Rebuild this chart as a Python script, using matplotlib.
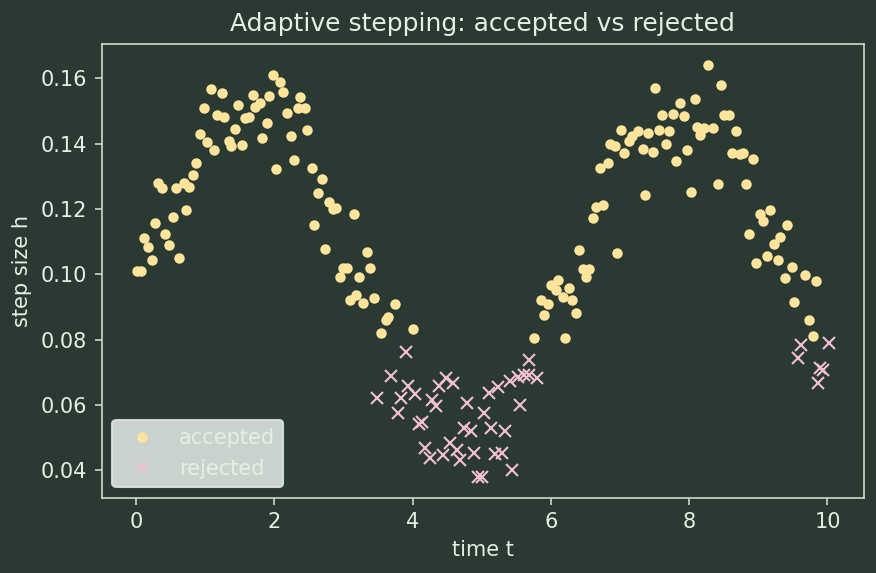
import matplotlib
matplotlib.use('Agg')
import matplotlib.pyplot as plt

BG = '#2a3a33'
FG = '#e6eee8'
EDGE = '#cbd9d1'

acc_t = [0.01, 0.08, 0.12, 0.18, 0.23, 0.28, 0.32, 0.38, 0.42, 0.48, 0.53, 0.58, 0.63,
         0.69, 0.73, 0.77, 0.83, 0.87, 0.93, 0.98, 1.03, 1.08, 1.13, 1.18, 1.24, 1.28,
         1.34, 1.38, 1.44, 1.48, 1.54, 1.58, 1.64, 1.69, 1.73, 1.80, 1.83, 1.89, 1.93,
         1.99, 2.03, 2.09, 2.13, 2.19, 2.24, 2.29, 2.34, 2.38, 2.44, 2.48, 2.54, 2.58,
         2.64, 2.69, 2.74, 2.79, 2.85, 2.89, 2.95, 2.99, 3.05, 3.09, 3.15, 3.19, 3.22,
         3.29, 3.34, 3.39, 3.44, 3.54, 3.61, 3.64, 3.74, 4.00,
         5.76, 5.86, 5.90, 5.96, 6.00, 6.07, 6.10, 6.17, 6.20, 6.26, 6.30, 6.37, 6.41,
         6.47, 6.51, 6.55, 6.61, 6.66, 6.71, 6.76, 6.82, 6.86, 6.93, 6.96, 7.01, 7.06,
         7.13, 7.18, 7.26, 7.33, 7.36, 7.41, 7.47, 7.51, 7.57, 7.61, 7.67, 7.71, 7.77,
         7.81, 7.87, 7.92, 7.97, 8.02, 8.08, 8.12, 8.16, 8.22, 8.27, 8.34, 8.42, 8.46,
         8.51, 8.57, 8.62, 8.67, 8.73, 8.78, 8.82, 8.86, 8.93, 8.97, 9.02, 9.07, 9.12,
         9.17, 9.22, 9.28, 9.32, 9.38, 9.42, 9.48, 9.52, 9.68, 9.73, 9.79, 9.83]
acc_h = [0.1011, 0.1011, 0.1111, 0.1083, 0.1044, 0.1157, 0.1278, 0.1265, 0.1124, 0.1090,
         0.1176, 0.1265, 0.1050, 0.1280, 0.1197, 0.1268, 0.1304, 0.1341, 0.1430, 0.1510,
         0.1406, 0.1568, 0.1379, 0.1489, 0.1554, 0.1481, 0.1407, 0.1392, 0.1446, 0.1517,
         0.1396, 0.1477, 0.1481, 0.1550, 0.1512, 0.1525, 0.1418, 0.1464, 0.1546, 0.1609,
         0.1323, 0.1590, 0.1559, 0.1493, 0.1423, 0.1350, 0.1510, 0.1544, 0.1510, 0.1443,
         0.1326, 0.1151, 0.1249, 0.1292, 0.1077, 0.1222, 0.1201, 0.1203, 0.0991, 0.1019,
         0.1019, 0.0922, 0.1185, 0.0936, 0.0993, 0.0911, 0.1068, 0.1019, 0.0927, 0.0819,
         0.0860, 0.0869, 0.0908, 0.0832,
         0.0804, 0.0922, 0.0876, 0.0909, 0.0968, 0.0952, 0.0983, 0.0931, 0.0804, 0.0958,
         0.0922, 0.0881, 0.1075, 0.1017, 0.0993, 0.1017, 0.1172, 0.1206, 0.1324, 0.1213,
         0.1341, 0.1400, 0.1392, 0.1065, 0.1443, 0.1372, 0.1408, 0.1423, 0.1438, 0.1385,
         0.1244, 0.1433, 0.1375, 0.1571, 0.1443, 0.1489, 0.1400, 0.1440, 0.1492, 0.1348,
         0.1525, 0.1486, 0.1379, 0.1252, 0.1538, 0.1452, 0.1425, 0.1447, 0.1642, 0.1447,
         0.1277, 0.1579, 0.1489, 0.1489, 0.1372, 0.1440, 0.1369, 0.1372, 0.1277, 0.1123,
         0.1354, 0.1034, 0.1183, 0.1162, 0.1055, 0.1196, 0.1093, 0.1044, 0.1113, 0.0988,
         0.1152, 0.1022, 0.0915, 0.0997, 0.0859, 0.0811, 0.0980]

rej_t = [3.49, 3.69, 3.79, 3.83, 3.90, 3.94, 4.04, 4.09, 4.14, 4.18, 4.25, 4.28, 4.34,
         4.39, 4.44, 4.49, 4.54, 4.59, 4.65, 4.69, 4.74, 4.79, 4.84, 4.89, 4.94, 5.01,
         5.03, 5.10, 5.14, 5.19, 5.24, 5.30, 5.34, 5.41, 5.44, 5.53, 5.55, 5.61, 5.68,
         5.69, 5.80, 9.57, 9.61, 9.86, 9.89, 9.94, 10.02]
rej_h = [0.0622, 0.0689, 0.0576, 0.0622, 0.0763, 0.0659, 0.0634, 0.0540, 0.0548, 0.0467,
         0.0436, 0.0615, 0.0597, 0.0659, 0.0446, 0.0683, 0.0482, 0.0666, 0.0463, 0.0430,
         0.0528, 0.0607, 0.0521, 0.0451, 0.0379, 0.0379, 0.0576, 0.0635, 0.0528, 0.0448,
         0.0654, 0.0451, 0.0521, 0.0673, 0.0400, 0.0686, 0.0599, 0.0691, 0.0691, 0.0738,
         0.0683, 0.0744, 0.0784, 0.0668, 0.0712, 0.0707, 0.0789]

plt.rcParams.update({
    'figure.facecolor': BG,
    'axes.facecolor': BG,
    'axes.edgecolor': EDGE,
    'axes.labelcolor': FG,
    'text.color': FG,
    'xtick.color': EDGE,
    'ytick.color': EDGE,
    'xtick.labelcolor': FG,
    'ytick.labelcolor': FG,
})

fig, ax = plt.subplots(figsize=(5.84, 3.82), dpi=150)
ax.plot(acc_t, acc_h, 'o', color='#ffe49c', markersize=4, label='accepted')
ax.plot(rej_t, rej_h, 'x', color='#f2bfd3', markersize=6, markeredgewidth=1, label='rejected')
ax.set_xlabel('time t')
ax.set_ylabel('step size h')
ax.set_title('Adaptive stepping: accepted vs rejected', color=FG)
leg = ax.legend(loc='lower left', facecolor='#dde4e0', edgecolor='#dde4e0', framealpha=0.9)
fig.tight_layout(pad=0.6)
fig.savefig('out.png', dpi=150, facecolor=BG)
